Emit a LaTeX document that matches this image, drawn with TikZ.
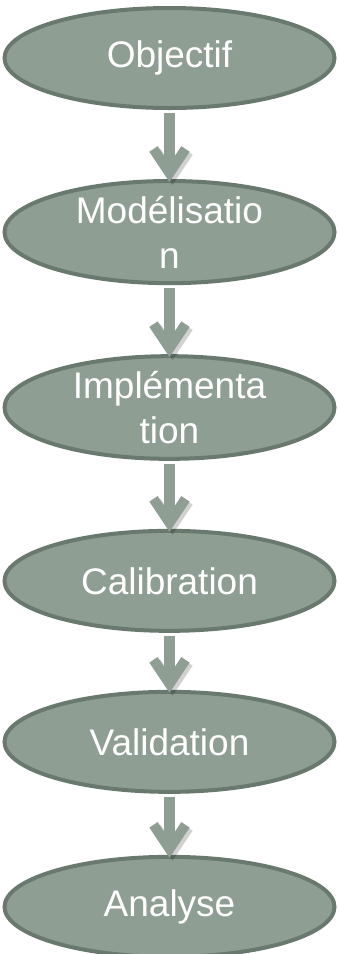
\documentclass[tikz,border=0pt]{standalone}
\usepackage{fontspec}
\setmainfont{Liberation Sans}
\usetikzlibrary{arrows.meta, shapes.geometric, positioning}
\definecolor{sage}{RGB}{142,158,147}
\definecolor{darksage}{RGB}{106,121,110}
\tikzstyle{stage} = [
    ellipse,
    draw=darksage,
    line width=4pt,
    fill=sage,
    minimum width=330pt,
    minimum height=100pt,
    inner sep=0pt,
    align=center,
    text=white,
    font=\fontsize{37}{45}\selectfont
]
\tikzstyle{flow} = [
    -{Straight Barb[length=24pt, width=32pt, line width=10pt]},
    line width=11pt,
    draw=sage,
    shorten <=3pt,
    shorten >=-3pt,
    preaction={draw=black, opacity=0.18, transform canvas={shift={(3pt,-3pt)}}}
]
\begin{document}
\begin{tikzpicture}[x=1pt, y=-1pt]
        \useasboundingbox (0,0) rectangle (339,954);
        % Stages
        \node[stage] (obj) at (169.5,58) {Objectif};
        \node[stage, below=69pt of obj] (model) {Modélisatio\\n};
        \node[stage, below=69pt of model] (impl) {Implémenta\\tion};
        \node[stage, below=68pt of impl] (calib) {Calibration};
        \node[stage, below=57pt of calib] (valid) {Validation};
        \node[stage, below=61pt of valid] (anal) {Analyse};

        % Arrows
        \draw[flow] (obj) -- (model);
        \draw[flow] (model) -- (impl);
        \draw[flow] (impl) -- (calib);
        \draw[flow] (calib) -- (valid);
        \draw[flow] (valid) -- (anal);
    \end{tikzpicture}
\end{document}
